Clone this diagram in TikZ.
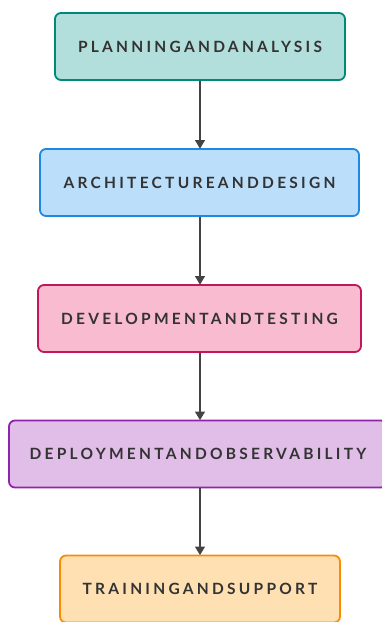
\documentclass[tikz,border=0pt]{standalone}
\usepackage{fontspec}
\setmainfont{Lato}
\usetikzlibrary{arrows.meta}
\definecolor{txt}{HTML}{333333}
\definecolor{arr}{HTML}{444444}
\definecolor{planfill}{HTML}{B2DFDB}\definecolor{planline}{HTML}{00897B}
\definecolor{archfill}{HTML}{BBDEFB}\definecolor{archline}{HTML}{1E88E5}
\definecolor{devfill}{HTML}{F8BBD0}\definecolor{devline}{HTML}{C2185B}
\definecolor{depfill}{HTML}{E1BEE7}\definecolor{depline}{HTML}{8E24AA}
\definecolor{trainfill}{HTML}{FFE0B2}\definecolor{trainline}{HTML}{FB8C00}
\begin{document}
\begin{tikzpicture}[x=1pt,y=-1pt,
  stage/.style={draw, line width=1.8pt, rounded corners=6pt, inner sep=0pt,
    font=\addfontfeatures{LetterSpace=21}\fontsize{15.5}{18}\selectfont\bfseries,
    text=txt, minimum height=67pt},
  flow/.style={draw=arr, line width=1.2pt, -{Triangle[length=8.5pt,width=10pt]}, shorten >=-0.5pt}]
\useasboundingbox (0,0) rectangle (381,622);
\node[stage, fill=planfill, draw=planline, minimum width=290pt] (plan) at (200,46.5) {PLANNINGANDANALYSIS};
\node[stage, fill=archfill, draw=archline, minimum width=319pt] (arch) at (199.5,182.5) {ARCHITECTUREANDDESIGN};
\node[stage, fill=devfill, draw=devline, minimum width=323pt] (dev) at (199.5,318.5) {DEVELOPMENTANDTESTING};
\node[stage, fill=depfill, draw=depline, minimum width=378pt] (dep) at (198,454) {DEPLOYMENTANDOBSERVABILITY};
\node[stage, fill=trainfill, draw=trainline, minimum width=280pt] (train) at (200,589) {TRAININGANDSUPPORT};
\draw[flow] (plan.south) -- (plan.south |- arch.north);
\draw[flow] (plan.south |- arch.south) -- (plan.south |- dev.north);
\draw[flow] (plan.south |- dev.south) -- (plan.south |- dep.north);
\draw[flow] (plan.south |- dep.south) -- (train.north);
\end{tikzpicture}
\end{document}
